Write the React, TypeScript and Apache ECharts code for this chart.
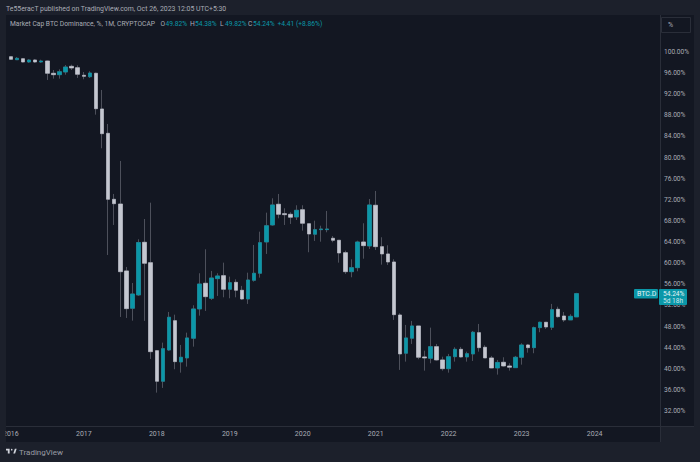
import React, { useEffect, useRef } from "react";
import * as echarts from "echarts";

const years = [2016, 2017, 2018, 2019, 2020, 2021, 2022, 2023, 2024];
const monthsShown = 107;
const yTicks = { min: 32, max: 100, step: 4 };

const opens = [99.11,98.54,98.73,98.11,98.49,98.11,98.30,95.97,95.70,96.21,97.29,97.03,95.59,95.32,95.97,89.21,84.60,72.10,71.21,58.53,51.46,53.98,63.96,60.10,43.43,37.63,43.56,49.11,41.29,42.05,45.78,51.33,56.20,53.35,57.07,57.64,55.06,56.38,54.87,53.22,56.76,58.09,64.02,67.24,71.16,69.38,69.26,68.75,70.13,67.48,65.48,66.35,66.35,64.72,64.34,61.99,58.39,59.15,64.02,63.26,70.97,63.13,61.75,60.23,50.19,42.94,45.78,48.11,42.24,41.99,44.19,41.67,40.02,42.29,43.69,42.24,42.81,46.84,44.07,42.05,40.15,41.23,40.53,40.21,42.18,44.51,44.00,47.79,48.81,47.86,51.27,50.00,49.25,49.82];
const closes = [98.62,98.81,98.11,98.49,98.11,98.30,95.97,95.70,96.27,97.16,96.97,95.78,95.40,96.02,89.26,84.53,72.10,71.27,58.39,51.39,54.17,63.92,59.98,43.24,37.63,43.81,49.76,41.35,42.18,45.84,51.33,56.06,53.66,57.20,57.58,55.06,56.31,54.87,53.22,56.82,58.09,63.89,67.10,71.03,69.26,69.19,68.70,70.02,67.56,65.53,66.35,66.48,66.48,64.34,61.93,58.39,59.15,64.02,63.32,71.03,63.13,61.75,60.23,50.25,42.81,45.84,48.11,42.18,42.05,44.19,41.67,40.02,42.29,43.69,42.24,42.86,46.92,44.00,42.05,40.15,41.20,40.53,40.29,42.18,44.51,44.00,47.79,48.81,47.92,51.20,49.87,49.25,49.94,54.24];
const lows = [98.49,98.49,98.01,97.92,97.92,97.92,94.70,94.95,94.95,95.70,96.59,95.08,94.83,95.08,88.13,81.76,61.55,67.24,49.81,49.62,49.11,53.79,49.06,41.86,35.48,36.37,43.37,39.91,39.26,40.40,44.19,50.06,50.95,53.03,53.79,53.54,53.35,53.54,53.03,52.28,56.50,57.26,61.75,67.10,68.50,67.24,67.43,68.18,66.16,62.07,64.21,64.07,65.85,63.96,60.10,57.96,57.33,58.47,60.85,62.69,62.50,59.72,59.66,49.25,39.78,41.35,44.70,41.80,39.64,41.04,41.54,39.64,39.26,41.35,42.11,41.35,41.48,43.24,42.05,40.10,38.89,40.40,39.64,40.21,40.78,43.05,42.94,46.92,47.54,47.35,49.68,48.87,49.25,49.82];
const highs = [99.24,99.05,98.87,98.68,98.68,98.54,98.39,96.59,96.72,97.54,97.60,97.48,96.21,96.35,96.08,92.81,86.37,73.11,79.36,59.28,56.25,64.53,68.37,71.46,43.56,44.95,50.76,50.25,44.51,46.84,52.03,58.09,62.63,58.53,58.09,60.10,57.45,56.95,55.69,58.20,63.45,65.97,69.57,72.29,73.11,70.40,69.64,70.97,70.97,67.48,68.05,67.10,69.89,65.15,64.34,62.37,60.74,64.26,67.56,72.16,73.68,64.91,63.39,60.74,50.51,48.30,49.06,48.11,43.43,47.79,44.70,42.29,42.81,44.07,44.13,43.24,47.16,48.49,44.45,42.43,41.67,42.18,41.04,42.43,44.83,44.70,47.98,48.92,48.86,52.28,51.76,50.76,50.32,54.38];

const TEAL = "#0b97a8";
const GREY = "#c4c7d0";
const WICK = "#4d505b";
const OUTER = "#1c202b";
const PANE = "#131722";
const TEXT = "#a9acb5";
const FONT = "Roboto";

const titleText = "Te55eracT published on TradingView.com, Oct 26, 2023 12:05 UTC+5:30";
const legendName = "Market Cap BTC Dominance, %, 1M, CRYPTOCAP";
const legendParts = [
  { key: "O", value: "49.82%", x: 160.5 },
  { key: "H", value: "54.38%", x: 190 },
  { key: "L", value: "49.82%", x: 220 },
  { key: "C", value: "54.24%", x: 248 },
];
const legendChange = "+4.41 (+8.86%)";

const logoPath = "M14 6H0v6h7v10h7V6zM28 22l6-16h7l-6 16h-7zM22 12a3 3 0 1 0 0-6 3 3 0 0 0 0 6z";

export default function App() {
  const ref = useRef<HTMLDivElement>(null);
  useEffect(() => {
    document.body.style.margin = "0";
    document.body.style.background = OUTER;
    echarts.graphic.registerShape("tvlogo", echarts.graphic.extendPath(logoPath, {}));
    const chart = echarts.init(ref.current!, null, { renderer: "svg" });

    const categories: string[] = [];
    for (const y of years) {
      for (let m = 1; m <= 12 && categories.length < monthsShown; m++) {
        categories.push(`${y}-${String(m).padStart(2, "0")}`);
      }
    }
    const wickData = opens.map((o, i) => [o, closes[i], lows[i], highs[i]]);
    const bodyData = opens.map((o, i) => [o, closes[i], Math.min(o, closes[i]), Math.max(o, closes[i])]);
    const txt = (text: string, x: number, y: number, fill: string, fontSize = 7, z = 50) => ({
      type: "text", x, y, z, silent: true,
      style: { text, fill, fontSize, fontFamily: FONT, verticalAlign: "middle" },
    });

    chart.setOption({
      animation: false,
      backgroundColor: OUTER,
      grid: { left: 2.5, right: 41.5, top: 52, bottom: 51, containLabel: false },
      xAxis: {
        type: "category",
        data: categories,
        boundaryGap: true,
        axisLine: { show: false },
        axisTick: { show: false },
        splitLine: { show: false },
        axisLabel: {
          color: TEXT, fontSize: 7, fontFamily: FONT, margin: 19,
          hideOverlap: false,
          interval: (i: number) => i % 12 === 0,
          formatter: (v: string) => v.slice(0, 4),
        },
      },
      yAxis: {
        type: "value",
        position: "right",
        min: yTicks.min,
        max: yTicks.max,
        interval: yTicks.step,
        axisLine: { show: false },
        axisTick: { show: false },
        splitLine: { show: false },
        axisLabel: {
          color: TEXT, fontSize: 6.6, fontFamily: FONT, margin: 5.5,
          formatter: (v: number) => v.toFixed(2) + "%",
        },
      },
      series: [
        {
          type: "candlestick", name: "wick", data: wickData, barWidth: 4, z: 2, silent: true,
          itemStyle: { color: WICK, color0: WICK, borderColor: WICK, borderColor0: WICK, borderColorDoji: WICK, borderWidth: 1 },
        },
        {
          type: "candlestick", name: "BTC.D", data: bodyData, barWidth: 4, z: 3, silent: true,
          itemStyle: { color: TEAL, color0: GREY, borderColor: TEAL, borderColor0: GREY, borderColorDoji: GREY, borderWidth: 0.5 },
        },
      ],
      graphic: [
        { type: "rect", z: -10, silent: true, shape: { x: 6, y: 15, width: 654, height: 411 }, style: { fill: PANE } },
        { type: "rect", z: -10, silent: true, shape: { x: 661, y: 15, width: 33, height: 411 }, style: { fill: PANE } },
        { type: "rect", z: -10, silent: true, shape: { x: 6, y: 427, width: 654, height: 15 }, style: { fill: PANE } },
        { type: "rect", z: 40, silent: true, shape: { x: 0, y: 0, width: 5.5, height: 462 }, style: { fill: OUTER } },
        { type: "line", z: 41, silent: true, shape: { x1: 660.5, y1: 15, x2: 660.5, y2: 442 }, style: { stroke: "#2a2e39", lineWidth: 1 } },
        { type: "line", z: 41, silent: true, shape: { x1: 6, y1: 426.5, x2: 694, y2: 426.5 }, style: { stroke: "#2a2e39", lineWidth: 1 } },
        { type: "rect", z: 41, silent: true, shape: { x: 661.5, y: 17.5, width: 29, height: 15 }, style: { fill: PANE, stroke: "#2a2e39", lineWidth: 1 } },
        txt("%", 668, 25, TEXT, 7),
        txt(titleText, 6, 8.5, TEXT, 6.9),
        txt(legendName, 10, 24, TEXT, 6.7),
        ...legendParts.flatMap((p) => [txt(p.key, p.x, 24, TEXT, 6.7), txt(p.value, p.x + 5, 24, TEAL, 6.7)]),
        txt(legendChange, 277.5, 24, TEAL, 6.7),
        { type: "rect", z: 60, silent: true, shape: { x: 634, y: 289, width: 24, height: 9.5, r: 1 }, style: { fill: TEAL } },
        { type: "rect", z: 60, silent: true, shape: { x: 659, y: 289, width: 28, height: 16, r: 1 }, style: { fill: TEAL } },
        txt("BTC.D", 637, 294, "#e6f4f6", 7, 61),
        txt("54.24%", 663, 294, "#e6f4f6", 6.6, 61),
        txt("5d 18h", 663, 301, "#d0e8ec", 6.6, 61),
        { type: "tvlogo", z: 50, silent: true, x: 6, y: 447, scaleX: 0.26, scaleY: 0.3, style: { fill: "#d1d4dc" } },
        txt("TradingView", 19, 452.5, "#9a9da6", 8),
      ],
    });
    return () => chart.dispose();
  }, []);
  return <div ref={ref} style={{ width: 700, height: 462 }} />;
}
